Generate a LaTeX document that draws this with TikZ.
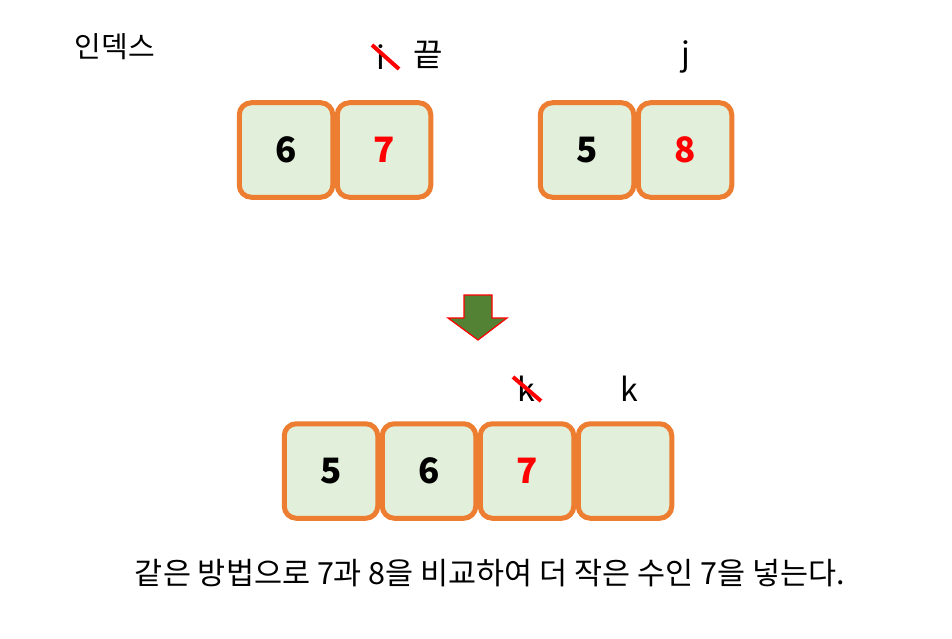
\documentclass[tikz,border=0pt]{standalone}
\usepackage{fontspec}
\setmainfont{Noto Sans CJK KR}
\definecolor{cellorange}{HTML}{ED7D31}
\definecolor{cellfill}{HTML}{E2EFDA}
\definecolor{arrowgreen}{HTML}{548235}
\definecolor{pred}{HTML}{FF0000}
\tikzset{
  cell/.style={draw=cellorange, line width=5pt, rounded corners=12pt, fill=cellfill,
    minimum width=93.5pt, minimum height=94.5pt, inner sep=0pt,
    font=\fontsize{35}{40}\selectfont\bfseries},
  redval/.style={text=pred},
  lbl/.style={inner sep=0pt, font=\fontsize{32}{36}\selectfont},
  txt/.style={inner sep=0pt, font=\fontsize{30.5}{36}\selectfont},
  strike/.style={draw=pred, line width=4pt},
}
\begin{document}
\begin{tikzpicture}[x=1pt,y=-1pt]
\useasboundingbox (0,0) rectangle (952,639);
\node[txt, font=\fontsize{29}{34}\selectfont] (idx) at (115,47) {인덱스};
% top left pair
\node[cell] (a1) at (286,150) {6};
\node[cell,redval] (a2) at (384,150) {7};
% top right pair
\node[cell] (b1) at (587,150) {5};
\node[cell,redval] (b2) at (685,150) {8};
% labels
\node[lbl] (li) at (381,57) {i};
\node[lbl] (lend) at (428,55) {끝};
\node[lbl] (lj) at (686,57) {j};
\coordinate (si1) at (372,45);
\coordinate (si2) at (399,69);
\draw[strike] (si1) -- (si2);
% arrow
\draw[draw=pred, line width=1.2pt, fill=arrowgreen, line join=miter]
  (464,295) -- (492,295) -- (492,318) -- (507,318) -- (478,340) -- (448,318) -- (464,318) -- cycle;
% bottom
\node[cell] (c1) at (331,471) {5};
\node[cell] (c2) at (429,471) {6};
\node[cell,redval] (c3) at (527,471) {7};
\node[cell] (c4) at (625,471) {};
\node[lbl] (lk1) at (526,389) {k};
\node[lbl] (lk2) at (629,389) {k};
\coordinate (sk1) at (513,377);
\coordinate (sk2) at (541,401);
\draw[strike] (sk1) -- (sk2);
\node[txt] (sent) at (490,573) {같은 방법으로 7과 8을 비교하여 더 작은 수인 7을 넣는다.};
\end{tikzpicture}
\end{document}
